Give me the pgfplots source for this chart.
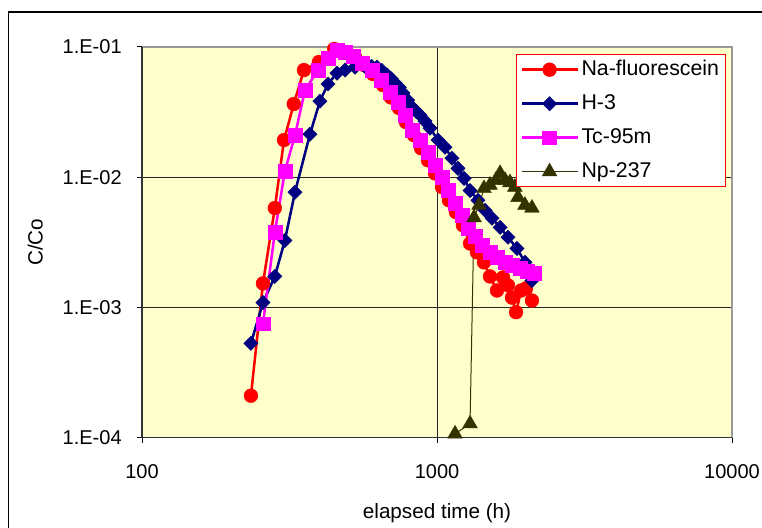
\documentclass[border=0pt]{standalone}
\usepackage{fontspec}
\setmainfont{Liberation Sans}
\usepackage{pgfplots}
\pgfplotsset{compat=1.18}
\definecolor{plotbg}{HTML}{FFFFCC}
\definecolor{navy}{HTML}{000080}
\definecolor{npolive}{HTML}{333300}
\definecolor{tcpink}{HTML}{FF00FF}
\definecolor{nared}{HTML}{FF0000}

\begin{document}
\begin{tikzpicture}[x=0.75pt,y=0.75pt]
\begin{loglogaxis}[
    at={(106.5pt,67pt)}, anchor=south west,
    width=442.5pt, height=293pt, scale only axis,
    xmin=100, xmax=10000, ymin=1e-4, ymax=1e-1,
    xtick={100,1000,10000}, xticklabels={100,1000,10000},
    ytick={1e-4,1e-3,1e-2,1e-1}, yticklabels={1.E-04,1.E-03,1.E-02,1.E-01},
    xminorticks=false, yminorticks=false,
    tick pos=left, tick align=outside, major tick length=3.75pt,
    tick style={black, line width=0.75pt},
    grid=major, major grid style={black!85, line width=0.75pt},
    axis background/.style={fill=plotbg},
    axis line style={draw=none},
    ticklabel style={font=\fontsize{15}{18}\selectfont},
    x tick label style={yshift=-13pt},
    y tick label style={xshift=-8pt},
    xlabel={elapsed time (h)}, ylabel={C/Co},
    label style={font=\fontsize{15.5}{18}\selectfont},
    xlabel style={at={(axis description cs:0.5,-0.193)}, anchor=center},
    ylabel style={at={(axis description cs:-0.181,0.5)}, anchor=center},
    clip=false,
    legend cell align=left,
    legend style={at={(0.634,0.981)}, anchor=north west, draw=nared, fill=white,
        font=\fontsize{16}{18}\selectfont, row sep=7pt,
        nodes={inner sep=2pt, text height=11.5pt, text depth=3pt}},
    legend image code/.code={\draw[mark repeat=2,mark phase=2,#1] plot coordinates {(0pt,0pt) (21pt,0pt) (42pt,0pt)};},
]
% Na-fluorescein
\addplot[nared, line width=1.9pt, mark=*, mark size=5.2pt, mark options={line width=0.3pt}] coordinates {
    (234,2.1e-4) (257,1.53e-3) (282,5.8e-3) (303,1.93e-2) (327,3.65e-2) (354,6.65e-2)
    (398,7.67e-2) (448,9.66e-2) (488,9.15e-2) (527,8.4e-2) (566,7.27e-2) (607,6.2e-2)
    (656,5.1e-2) (698,4.1e-2) (743,3.4e-2) (785,2.65e-2) (836,2.1e-2) (883,1.67e-2)
    (932,1.35e-2) (985,1.07e-2) (1040,8.4e-3) (1098,6.65e-3) (1159,5.4e-3) (1224,4.28e-3)
    (1294,3.1e-3) (1366,2.65e-3) (1443,2.22e-3) (1512,1.73e-3) (1597,1.35e-3) (1674,1.70e-3)
    (1740,1.48e-3) (1795,1.19e-3) (1853,9.2e-4) (1928,1.35e-3) (2003,1.40e-3) (2098,1.13e-3)
};
\addlegendentry{Na-fluorescein}
% H-3
\addplot[navy, line width=1.9pt, mark=square*, mark size=3.8pt, mark options={rotate=45, line width=0.3pt}] coordinates {
    (234,5.3e-4) (257,1.09e-3) (282,1.73e-3) (305,3.27e-3) (330,7.67e-3) (371,2.14e-2)
    (401,3.84e-2) (427,5.2e-2) (458,6.3e-2) (488,6.65e-2) (527,7.0e-2) (570,7.1e-2)
    (600,7.1e-2) (626,7.0e-2) (650,6.6e-2) (677,6.1e-2) (700,5.7e-2) (720,5.3e-2)
    (745,4.9e-2) (767,4.43e-2) (795,3.9e-2) (823,3.46e-2) (850,3.2e-2) (876,3.0e-2)
    (910,2.7e-2) (947,2.38e-2) (1008,1.93e-2) (1064,1.70e-2) (1124,1.40e-2) (1178,1.17e-2)
    (1235,9.8e-3) (1294,7.9e-3) (1377,6.65e-3) (1455,5.57e-3) (1536,4.84e-3) (1636,4.12e-3)
    (1740,3.46e-3) (1866,2.84e-3) (1987,2.22e-3) (2098,1.61e-3)
};
\addlegendentry{H-3}
% Tc-95m
\addplot[tcpink, line width=1.9pt, mark=square*, mark size=5.2pt, mark options={line width=0.3pt}] coordinates {
    (257,7.5e-4) (282,3.78e-3) (305,1.11e-2) (330,2.1e-2) (357,4.67e-2) (395,6.65e-2)
    (427,8.2e-2) (458,9.5e-2) (488,9.15e-2) (519,8.5e-2) (557,7.5e-2) (603,6.65e-2)
    (646,5.6e-2) (693,4.5e-2) (738,3.78e-2) (779,3.0e-2) (823,2.3e-2) (876,1.93e-2)
    (932,1.56e-2) (985,1.24e-2) (1040,1.0e-2) (1089,7.9e-3) (1151,6.3e-3) (1215,5.1e-3)
    (1274,4.05e-3) (1345,3.5e-3) (1421,3.0e-3) (1512,2.65e-3) (1597,2.43e-3) (1700,2.22e-3)
    (1795,2.1e-3) (1910,2.0e-3) (2018,1.89e-3) (2132,1.83e-3)
};
\addlegendentry{Tc-95m}
% Np-237
\addplot[npolive, line width=0.75pt, mark=triangle*, mark size=6.4pt, mark options={line width=0.3pt}] coordinates {
    (1151,1.07e-4) (1294,1.28e-4) (1335,4.9e-3) (1388,6.1e-3) (1443,8.2e-3) (1512,8.7e-3)
    (1585,9.5e-3) (1636,1.07e-2) (1700,9.5e-3) (1767,9.1e-3) (1836,8.4e-3) (1882,7.0e-3)
    (1987,6.1e-3) (2098,5.8e-3)
};
\addlegendentry{Np-237}
\draw[gray!80, line width=1.5pt] (rel axis cs:0,1) -- (rel axis cs:1,1) -- (rel axis cs:1,0);
\draw[black!80, line width=1.1pt] (rel axis cs:0,1) -- (rel axis cs:0,0) -- (rel axis cs:1,0);
\end{loglogaxis}
\draw[black, line width=1.2pt] (8.3,-20) -- (8.3,514.7) -- (800,514.7);
\pgfresetboundingbox
\path[use as bounding box] (0,0) rectangle (762,527);
\end{tikzpicture}
\end{document}
